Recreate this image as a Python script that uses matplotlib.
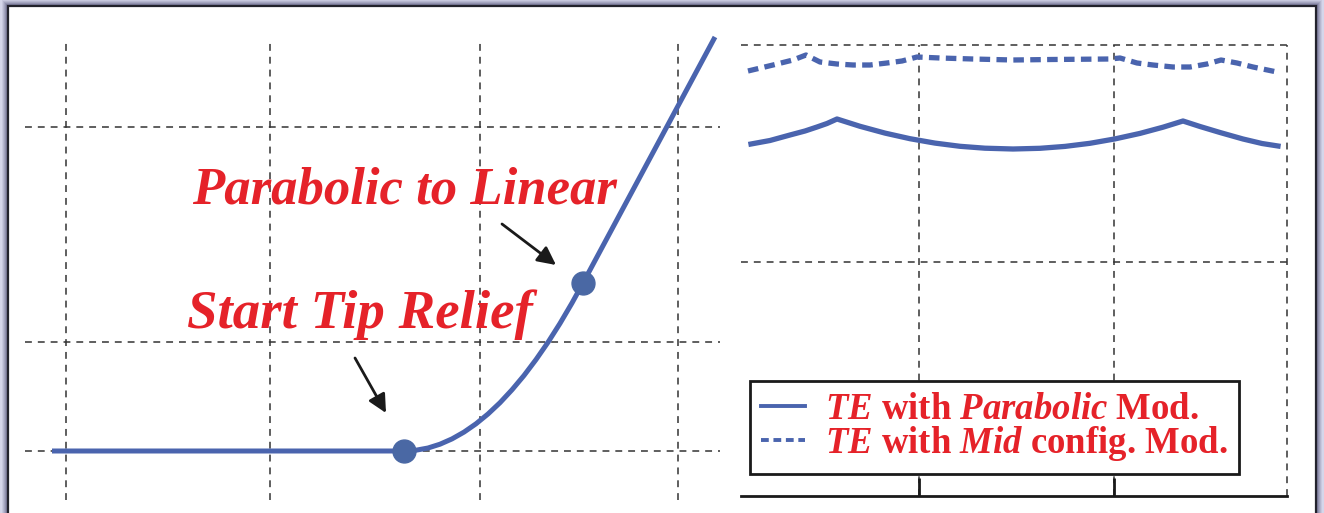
import matplotlib
matplotlib.use("Agg")
import matplotlib.pyplot as plt
from matplotlib.patches import Rectangle

# ---------------- data ----------------
# Left panel: tip-relief profile (flat -> parabolic -> linear)
profile_x = [-0.14, 3.38, 3.50, 3.62, 3.74, 3.86, 3.98, 4.10, 4.22, 4.34, 4.46, 4.58, 4.70,
             4.82, 4.94, 5.06, 5.17, 6.49]
profile_y = [0.0, 0.0, 0.008, 0.030, 0.068, 0.121, 0.189, 0.272, 0.370, 0.483, 0.612, 0.755,
             0.914, 1.087, 1.276, 1.480, 1.68, 4.14]
key_x = [3.38, 5.17]          # start tip relief, parabolic->linear
key_y = [0.0, 1.68]
left_grid_x = [0.0, 2.04, 4.14, 6.12]
left_grid_y = [0.0, 1.09, 3.24]

# Right panel: transmission error curves
te_par_x = [0.10, 0.29, 0.49, 0.64, 0.76, 0.86, 0.96, 1.19, 1.44, 1.69, 1.94, 2.19, 2.44,
            2.72, 2.99, 3.24, 3.49, 3.74, 3.99, 4.22, 4.42, 4.59, 4.79, 5.02, 5.21, 5.37]
te_par_y = [3.52, 3.555, 3.61, 3.65, 3.69, 3.725, 3.77, 3.697, 3.629, 3.573, 3.529, 3.497, 3.478,
            3.47, 3.477, 3.496, 3.527, 3.571, 3.626, 3.688, 3.75, 3.695, 3.635, 3.57, 3.525, 3.50]
te_mid_x = [0.07, 0.32, 0.52, 0.65, 0.79, 0.96, 1.12, 1.29, 1.46, 1.61, 1.76, 1.99, 2.32,
            2.72, 3.10, 3.69, 3.79, 3.96, 4.12, 4.32, 4.49, 4.66, 4.80, 4.96, 5.12, 5.36]
te_mid_y = [4.25, 4.31, 4.36, 4.41, 4.34, 4.32, 4.31, 4.31, 4.33, 4.35, 4.39, 4.38, 4.37,
            4.36, 4.365, 4.37, 4.38, 4.33, 4.31, 4.29, 4.29, 4.32, 4.36, 4.33, 4.29, 4.24]
right_grid_x = [1.78, 3.73]
right_grid_y = [2.34]
right_xmax, right_ymax = 5.46, 4.51

labels = [r"$TE$ with $Parabolic$ Mod.", r"$TE$ with $Mid$ config. Mod."]
ann_start = "Start Tip Relief"
ann_par = "Parabolic to Linear"

# ---------------- style ----------------
plt.rcParams['mathtext.fontset'] = 'custom'
plt.rcParams['mathtext.it'] = 'Liberation Serif:italic:bold'
plt.rcParams['mathtext.rm'] = 'Liberation Serif:bold'
plt.rcParams['mathtext.bf'] = 'Liberation Serif:bold'

BLUE = '#4a64ae'
DOT = '#4a68a4'
RED = '#e52229'
GRID = '#333333'
dash = (0, (4.5, 3.9))

W, H = 1324, 513
fig = plt.figure(figsize=(W / 100, H / 100), dpi=100)
fig.patch.set_facecolor('#d5d6ea')

# frame with soft shadow
for i, a in enumerate([0.10, 0.14, 0.18, 0.24, 0.32]):
    off = 6 - i
    fig.patches.append(Rectangle(((8 - off) / W, 0), (1316 - 8 + 2 * off) / W, (H - 6 + off) / H,
                                 transform=fig.transFigure, facecolor='#55557a', alpha=a,
                                 edgecolor='none', zorder=-5))
fig.patches.append(Rectangle((8 / W, -0.01), (1316 - 8) / W, (H - 6) / H + 0.01,
                             transform=fig.transFigure, facecolor='white',
                             edgecolor='#22222c', lw=1.6, zorder=-4))

# ---------------- left panel ----------------
ax1 = fig.add_axes([25 / W, (H - 500) / H, 695 / W, 460 / H])
ax1.set_facecolor('none')
ax1.set_xlim((25 - 66) / 100, (720 - 66) / 100)
ax1.set_ylim((451 - 500) / 100, (451 - 40) / 100)
for s in ax1.spines.values():
    s.set_visible(False)
ax1.set_xticks(left_grid_x)
ax1.set_yticks(left_grid_y)
ax1.tick_params(length=0, labelbottom=False, labelleft=False)
ax1.grid(True, color=GRID, lw=1.1, linestyle=dash)
ax1.plot(profile_x, profile_y, color=BLUE, lw=3.6, solid_capstyle='butt',
         solid_joinstyle='round', clip_on=False, zorder=3)
ax1.plot(key_x, key_y, 'o', color=DOT, ms=16.5, clip_on=False, zorder=4)

font_ann = dict(family='Liberation Serif', weight='bold', style='italic', color=RED)
ax1.text(1.26, 2.48, ann_par, ha='left', va='baseline', fontsize=38, **font_ann)
ax1.text(1.21, 1.23, ann_start, ha='left', va='baseline', fontsize=39.5, **font_ann)
arrow = dict(arrowstyle='-|>,head_length=1.1,head_width=0.55', color='#1a1a1a', lw=2.0,
             shrinkA=0, shrinkB=0)
ax1.annotate('', xy=(3.20, 0.38), xytext=(2.89, 0.93), arrowprops=arrow)
ax1.annotate('', xy=(4.90, 1.86), xytext=(4.36, 2.27), arrowprops=arrow)

# ---------------- right panel ----------------
ax2 = fig.add_axes([741 / W, (H - 496) / H, 546 / W, 451 / H])
ax2.set_facecolor('none')
ax2.set_xlim(0, right_xmax)
ax2.set_ylim(0, right_ymax)
for k in ['top', 'right', 'left']:
    ax2.spines[k].set_visible(False)
ax2.spines['bottom'].set_linewidth(2.0)
ax2.spines['bottom'].set_color('#1a1a1a')
ax2.set_xticks(right_grid_x)
ax2.set_yticks(right_grid_y)
ax2.tick_params(axis='x', direction='in', length=13, width=2.0, color='#1a1a1a', labelbottom=False)
ax2.tick_params(axis='y', length=0, labelleft=False)
ax2.grid(True, color=GRID, lw=1.1, linestyle=dash)
ax2.axhline(right_ymax, color=GRID, lw=1.1, linestyle=dash, clip_on=False)
ax2.axvline(right_xmax, color=GRID, lw=1.1, linestyle=dash, clip_on=False)

ax2.plot(te_par_x, te_par_y, color=BLUE, lw=3.8, solid_joinstyle='round', label=labels[0])
ax2.plot(te_mid_x, te_mid_y, color=BLUE, lw=3.8, linestyle=(0, (2.0, 1.2)), label=labels[1])

leg = ax2.legend(loc='upper left', bbox_to_anchor=(750 / W, 1 - 381 / H),
                 bbox_transform=fig.transFigure, borderaxespad=0,
                 prop=dict(family='Liberation Serif', weight='bold', size=26.5),
                 frameon=True, fancybox=False, edgecolor='#1a1a1a', facecolor='white', framealpha=1,
                 handlelength=1.2, handletextpad=0.55, labelspacing=-0.08, borderpad=0.3)
leg.get_frame().set_linewidth(2.0)
for t in leg.get_texts():
    t.set_color(RED)
for l in leg.get_lines():
    l.set_linewidth(2.8)

fig.savefig('out.png', dpi=100, facecolor=fig.get_facecolor())
